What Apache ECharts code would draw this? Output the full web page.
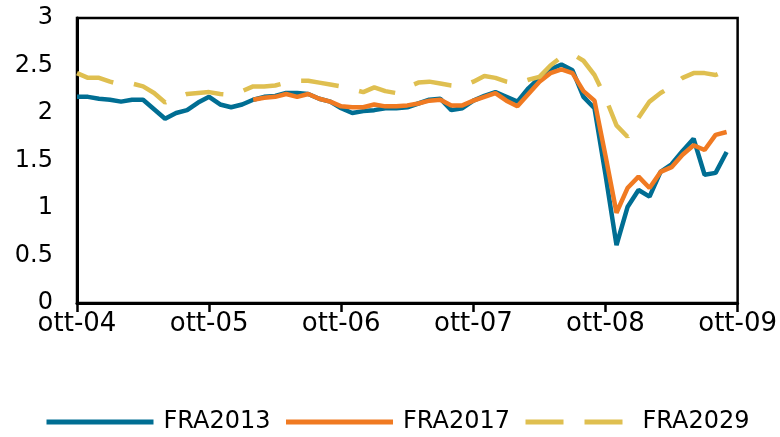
<!DOCTYPE html>
<html>
<head>
<meta charset="utf-8">
<script src="https://cdn.jsdelivr.net/npm/echarts@6/dist/echarts.min.js"></script>
<style>
  html, body { margin: 0; padding: 0; background: #fff; }
  #chart { width: 780px; height: 437px; }
</style>
</head>
<body>
<div id="chart"></div>
<script>
// monthly, ott-04 .. ott-09
const monthNames = ['gen', 'feb', 'mar', 'apr', 'mag', 'giu', 'lug', 'ago', 'set', 'ott', 'nov', 'dic'];
const years = ['04', '05', '06', '07', '08', '09'];

const fra2013 = [2.17, 2.17, 2.15, 2.14, 2.12, 2.14, 2.14, 2.04, 1.94, 2.00,
  2.03, 2.11, 2.17, 2.09, 2.06, 2.09, 2.14, 2.17, 2.18, 2.21,
  2.21, 2.20, 2.15, 2.12, 2.05, 2.00, 2.02, 2.03, 2.05, 2.05,
  2.06, 2.10, 2.14, 2.15, 2.03, 2.05, 2.13, 2.18, 2.22, 2.17,
  2.12, 2.26, 2.37, 2.46, 2.51, 2.45, 2.17, 2.05, 1.35, 0.61,
  1.01, 1.19, 1.12, 1.38, 1.46, 1.60, 1.73, 1.35, 1.37, 1.59, null];

const fra2017 = [null, null, null, null, null, null, null, null, null, null,
  null, null, null, null, null, null, 2.14, 2.16, 2.17, 2.20,
  2.17, 2.20, 2.15, 2.12, 2.07, 2.06, 2.06, 2.09, 2.07, 2.07,
  2.08, 2.10, 2.13, 2.14, 2.08, 2.08, 2.13, 2.17, 2.21, 2.13,
  2.07, 2.20, 2.33, 2.42, 2.46, 2.42, 2.23, 2.13, 1.55, 0.95,
  1.21, 1.33, 1.21, 1.38, 1.43, 1.56, 1.66, 1.61, 1.77, 1.80, null];

const fra2029 = [2.42, 2.37, 2.37, 2.33, 2.30, 2.31, 2.28, 2.21, 2.11, 2.16,
  2.20, 2.21, 2.22, 2.20, 2.19, 2.23, 2.28, 2.28, 2.29, 2.32,
  2.34, 2.34, 2.32, 2.30, 2.28, 2.25, 2.22, 2.27, 2.23, 2.21,
  2.27, 2.32, 2.33, 2.31, 2.29, 2.28, 2.33, 2.39, 2.37, 2.33,
  2.31, 2.35, 2.38, 2.50, 2.59, 2.62, 2.55, 2.40, 2.16, 1.87,
  1.75, 1.95, 2.12, 2.21, 2.28, 2.37, 2.42, 2.42, 2.40, 2.45, null];

const categories = [];
for (let i = 0; i < fra2013.length; i++) {
  const m = (9 + i) % 12;
  const y = Math.floor((9 + i) / 12);
  categories.push(monthNames[m] + '-' + years[y]);
}

const font = 'DejaVu Sans';
const chart = echarts.init(document.getElementById('chart'), null, { renderer: 'canvas' });

const option = {
  animation: false,
  backgroundColor: '#fff',
  grid: {
    left: 77, right: 39, top: 18, bottom: 134,
    show: true, borderColor: '#000', borderWidth: 2.5
  },
  legend: {
    left: 44, top: 410, padding: 0,
    itemWidth: 107, itemHeight: 6, itemGap: 13,
    itemStyle: { opacity: 0 },
    lineStyle: { width: 5 },
    textStyle: { fontFamily: font, fontSize: 24, color: '#000', padding: [0, 0, 0, 5] },
    data: ['FRA2013', 'FRA2017', 'FRA2029']
  },
  xAxis: {
    type: 'category',
    data: categories,
    boundaryGap: false,
    axisLine: { lineStyle: { color: '#000', width: 3 } },
    axisTick: { show: true, interval: 11, length: 9, lineStyle: { color: '#000', width: 2.5 } },
    axisLabel: { interval: 11, margin: 8, fontFamily: font, fontSize: 26, color: '#000' },
    splitLine: { show: false }
  },
  yAxis: {
    type: 'value',
    min: 0, max: 3, interval: 0.5,
    axisLine: { show: true, lineStyle: { color: '#000', width: 3 } },
    axisTick: { show: false },
    axisLabel: { margin: 24, fontFamily: font, fontSize: 24, color: '#000' },
    splitLine: { show: false }
  },
  series: [
    {
      name: 'FRA2013', type: 'line', data: fra2013, symbol: 'none',
      color: '#006E93', lineStyle: { width: 4.5, color: '#006E93' }
    },
    {
      name: 'FRA2017', type: 'line', data: fra2017, symbol: 'none',
      color: '#F07A22', lineStyle: { width: 4.5, color: '#F07A22' }
    },
    {
      name: 'FRA2029', type: 'line', data: fra2029, symbol: 'none',
      color: '#DFBF50', lineStyle: { width: 4.5, color: '#DFBF50', type: [38, 21] }
    }
  ]
};

chart.setOption(option);
</script>
</body>
</html>
